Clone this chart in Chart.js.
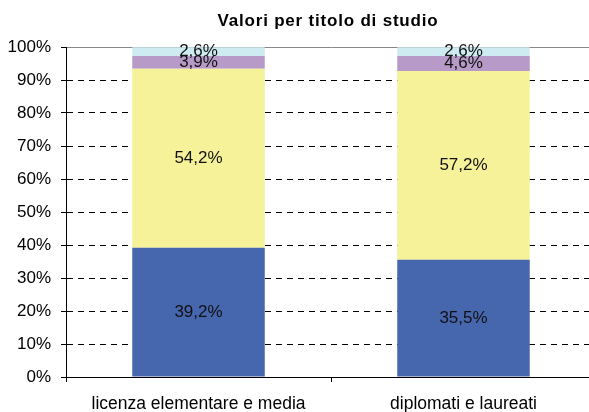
<!DOCTYPE html>
<html>
<head>
<meta charset="utf-8">
<script src="https://cdn.jsdelivr.net/npm/chart.js@4/dist/chart.umd.min.js"></script>
<style>
  html, body { margin: 0; padding: 0; background: #fff; overflow: hidden; width: 589px; height: 412px; }
  #wrap { width: 596px; height: 412px; }
</style>
</head>
<body>
<div id="wrap"><canvas id="chart" width="596" height="412"></canvas></div>
<script>
// Chart data
var categories = ['licenza elementare e media', 'diplomati e laureati'];
var seriesNames = ['base', 'medio', 'alto', 'altro'];
var valuesBlue = [39.2, 35.5];
var valuesYellow = [54.2, 57.2];
var valuesPurple = [3.9, 4.6];
var valuesCyan = [2.6, 2.6];
var yTicks = [0, 10, 20, 30, 40, 50, 60, 70, 80, 90, 100];
var chartTitle = 'Valori per titolo di studio';

var FONT = '"Liberation Sans", Arial, sans-serif';

// Title centered over the plot area
var titlePlugin = {
    id: 'plotTitle',
    afterDraw: function(chart) {
        var ctx = chart.ctx;
        var area = chart.chartArea;
        ctx.save();
        ctx.font = 'bold 17px ' + FONT;
        if ('letterSpacing' in ctx) ctx.letterSpacing = '0.8px';
        ctx.fillStyle = '#000';
        ctx.textAlign = 'center';
        ctx.textBaseline = 'middle';
        ctx.fillText(chartTitle, (area.left + area.right) / 2 - 3, 21);
        ctx.restore();
    }
};

// Value labels in the middle of each segment
var labelPlugin = {
    id: 'segmentLabels',
    afterDatasetsDraw: function(chart) {
        var ctx = chart.ctx;
        ctx.save();
        ctx.font = '17px ' + FONT;
        ctx.fillStyle = '#111';
        ctx.textAlign = 'center';
        ctx.textBaseline = 'middle';
        chart.data.datasets.forEach(function(ds, i) {
            var meta = chart.getDatasetMeta(i);
            meta.data.forEach(function(bar, j) {
                var v = ds.data[j];
                var txt = v.toFixed(1).replace('.', ',') + '%';
                ctx.fillText(txt, bar.x, (bar.y + bar.base) / 2);
            });
        });
        ctx.restore();
    }
};

function makeSet(label, data, color) {
    return {
        label: label,
        data: data,
        backgroundColor: color,
        borderWidth: 0,
        barPercentage: 0.5,
        categoryPercentage: 1.0
    };
}

var chart = new Chart(document.getElementById('chart'), {
    type: 'bar',
    data: {
        labels: categories,
        datasets: [
            makeSet(seriesNames[0], valuesBlue, '#4666AD'),
            makeSet(seriesNames[1], valuesYellow, '#F6F29A'),
            makeSet(seriesNames[2], valuesPurple, '#B79AC8'),
            makeSet(seriesNames[3], valuesCyan, '#CDEBF0')
        ]
    },
    options: {
        responsive: false,
        animation: false,
        layout: { padding: { top: 47, right: 0, left: 0, bottom: 0 } },
        plugins: {
            legend: { display: false },
            title: { display: false },
            tooltip: { enabled: false }
        },
        scales: {
            x: {
                stacked: true,
                offset: true,
                afterFit: function(s) { s.height = 35; },
                grid: {
                    offset: true,
                    drawOnChartArea: false,
                    drawTicks: true,
                    tickLength: 5,
                    tickColor: '#000',
                    color: '#000'
                },
                border: { display: true, color: '#000', width: 1 },
                ticks: {
                    color: '#000',
                    font: { family: FONT, size: 17.5 },
                    padding: 12,
                    maxRotation: 0
                }
            },
            y: {
                stacked: true,
                min: 0,
                max: 100,
                afterFit: function(s) { s.width = 66; },
                afterBuildTicks: function(s) {
                    s.ticks = yTicks.map(function(v) { return { value: v }; });
                },
                grid: {
                    color: function(c) {
                        if (c.tick && c.tick.value === 100) return '#888';
                        return '#000';
                    },
                    lineWidth: 1,
                    drawTicks: true,
                    tickLength: 5,
                    tickColor: '#000'
                },
                border: {
                    display: true,
                    color: '#000',
                    width: 1,
                    dash: function(c) {
                        if (c.tick && c.tick.value === 100) return [];
                        return [6, 5];
                    }
                },
                ticks: {
                    color: '#000',
                    font: { family: FONT, size: 17 },
                    padding: 10,
                    callback: function(v) { return v + '%'; }
                }
            }
        }
    },
    plugins: [titlePlugin, labelPlugin]
});
</script>
</body>
</html>
